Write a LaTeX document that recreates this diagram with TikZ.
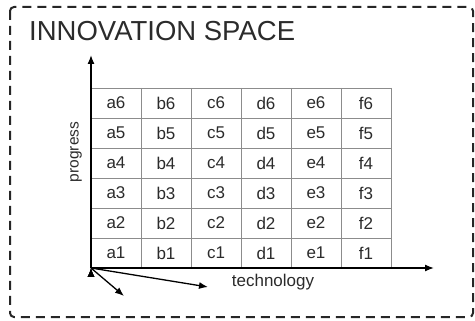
\documentclass[tikz,border=0pt]{standalone}
\usepackage{fontspec}
\setmainfont{Liberation Sans}
\usepackage{tikz}
\usetikzlibrary{arrows.meta}
\definecolor{inktext}{HTML}{2B2B2B}
\definecolor{gridline}{HTML}{8C8C8C}
\tikzstyle{cell}=[text=inktext, font=\fontsize{17}{17}\selectfont, inner sep=0pt]
\tikzstyle{axis}=[draw=black, line width=1.3pt, -{Latex[length=9pt, width=7pt]}]
\tikzstyle{frame}=[draw=black!85, line width=2pt, dash pattern=on 9pt off 6pt, rounded corners=4pt]

\begin{document}
\begin{tikzpicture}[x=1pt, y=-1pt]
		   \useasboundingbox (0, 0) rectangle (475, 321);
		   \path [frame] (10, 7) rectangle (473, 317);
		   \node (title) at (29, 41)[anchor=base west, text=inktext, font=\fontsize{27.5}{27.5}\selectfont, inner sep=0pt] {INNOVATION SPACE};
		   \begin{scope}
			   % cell grid
			   \draw [gridline, line width=0.9pt] (91, 88) -- (391, 88);
			   \draw [gridline, line width=0.9pt] (91, 118) -- (391, 118);
			   \draw [gridline, line width=0.9pt] (91, 148) -- (391, 148);
			   \draw [gridline, line width=0.9pt] (91, 178) -- (391, 178);
			   \draw [gridline, line width=0.9pt] (91, 208) -- (391, 208);
			   \draw [gridline, line width=0.9pt] (91, 238) -- (391, 238);
			   \draw [gridline, line width=0.9pt] (141, 88) -- (141, 268);
			   \draw [gridline, line width=0.9pt] (191, 88) -- (191, 268);
			   \draw [gridline, line width=0.9pt] (241, 88) -- (241, 268);
			   \draw [gridline, line width=0.9pt] (291, 88) -- (291, 268);
			   \draw [gridline, line width=0.9pt] (341, 88) -- (341, 268);
			   \draw [gridline, line width=0.9pt] (391, 88) -- (391, 268);
		   \end{scope}
		   \begin{scope}
			   \node (a6) at (116, 103)[cell] {a6};
			   \node (b6) at (166, 103)[cell] {b6};
			   \node (c6) at (216, 103)[cell] {c6};
			   \node (d6) at (266, 103)[cell] {d6};
			   \node (e6) at (316, 103)[cell] {e6};
			   \node (f6) at (366, 103)[cell] {f6};
			   \node (a5) at (116, 133)[cell] {a5};
			   \node (b5) at (166, 133)[cell] {b5};
			   \node (c5) at (216, 133)[cell] {c5};
			   \node (d5) at (266, 133)[cell] {d5};
			   \node (e5) at (316, 133)[cell] {e5};
			   \node (f5) at (366, 133)[cell] {f5};
			   \node (a4) at (116, 163)[cell] {a4};
			   \node (b4) at (166, 163)[cell] {b4};
			   \node (c4) at (216, 163)[cell] {c4};
			   \node (d4) at (266, 163)[cell] {d4};
			   \node (e4) at (316, 163)[cell] {e4};
			   \node (f4) at (366, 163)[cell] {f4};
			   \node (a3) at (116, 193)[cell] {a3};
			   \node (b3) at (166, 193)[cell] {b3};
			   \node (c3) at (216, 193)[cell] {c3};
			   \node (d3) at (266, 193)[cell] {d3};
			   \node (e3) at (316, 193)[cell] {e3};
			   \node (f3) at (366, 193)[cell] {f3};
			   \node (a2) at (116, 223)[cell] {a2};
			   \node (b2) at (166, 223)[cell] {b2};
			   \node (c2) at (216, 223)[cell] {c2};
			   \node (d2) at (266, 223)[cell] {d2};
			   \node (e2) at (316, 223)[cell] {e2};
			   \node (f2) at (366, 223)[cell] {f2};
			   \node (a1) at (116, 253)[cell] {a1};
			   \node (b1) at (166, 253)[cell] {b1};
			   \node (c1) at (216, 253)[cell] {c1};
			   \node (d1) at (266, 253)[cell] {d1};
			   \node (e1) at (316, 253)[cell] {e1};
			   \node (f1) at (366, 253)[cell] {f1};
		   \end{scope}
		   \begin{scope}
			   \coordinate (origin) at (91, 268);
			   \coordinate (up) at (91, 55);
			   \coordinate (right) at (434, 268);
			   \coordinate (down) at (124, 296);
			   \coordinate (slant) at (208, 287);
			   \path [axis] (origin) edge (up);
			   \path [axis] (origin) edge (right);
			   \path [axis] (origin) edge (down);
			   \path [axis] (origin) edge (slant);
			   \node (technology) at (273, 282)[cell] {technology};
			   \node (progress) at (76, 152)[cell, rotate=90, font=\fontsize{15.5}{15.5}\selectfont] {progress};
		   \end{scope}
	   \end{tikzpicture}
\end{document}
